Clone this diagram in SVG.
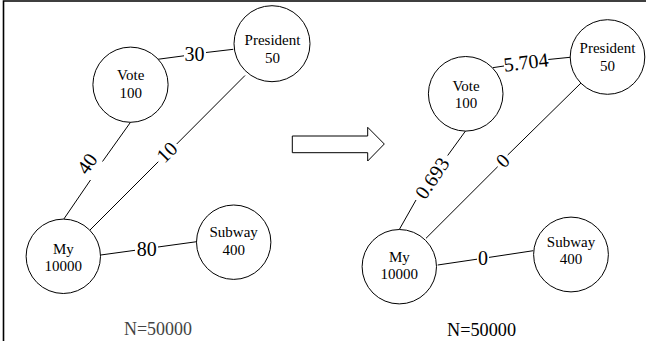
<svg xmlns="http://www.w3.org/2000/svg" width="646" height="341" viewBox="0 0 646 341">
  <style>
    .node circle { fill: #fff; stroke: #000; stroke-width: 1; }
    .node text { font-family: "Liberation Serif", "Times New Roman", serif; font-size: 15px; text-anchor: middle; fill: #000; }
    .edge { fill: none; stroke: #000; stroke-width: 1; }
    .lbl { font-family: "Liberation Serif", "Times New Roman", serif; font-size: 20px; text-anchor: middle; fill: #000; }
    .cap { font-family: "Liberation Serif", "Times New Roman", serif; font-size: 19px; text-anchor: middle; }
  </style>
  <rect x="0" y="0" width="646" height="341" fill="#fff"/>
  <path d="M3.5,342 V1 H646" fill="none" stroke="#000" stroke-width="1.6"/>

  <g id="connectors">
    <!-- left graph -->
    <path class="edge" d="M157.7,59.3 L184,55.8 M206,52.5 L233.3,49.3"/>
    <path class="edge" d="M130.7,122 L102.5,161.5 M90.5,180 L63.5,219.5"/>
    <path class="edge" d="M90,230 L158.3,161.7 M176.7,144 L245,75.5"/>
    <path class="edge" d="M100.7,255 L135,250.3 M158,247 L196.7,241.7"/>
    <text class="lbl" x="194.5" y="61">30</text>
    <text class="lbl" transform="translate(87,163.5) rotate(-55.5)" x="0" y="7">40</text>
    <text class="lbl" transform="translate(166.7,152) rotate(-45)" x="0" y="7">10</text>
    <text class="lbl" x="146.7" y="255.5">80</text>
    <!-- right graph -->
    <path class="edge" d="M492.7,67.7 L504,66 M548.3,59.5 L570,57.3"/>
    <path class="edge" d="M465.5,131 L447.7,155.5 M416,200 L399.3,229.5"/>
    <path class="edge" d="M426,238.3 L497.7,166.7 M507.7,155 L581,83"/>
    <path class="edge" d="M437.7,265 L477,259.2 M489,257.4 L533.3,250.7"/>
    <text class="lbl" transform="translate(526,62) rotate(-7)" x="0" y="7">5.704</text>
    <text class="lbl" transform="translate(432,178) rotate(-56.2)" x="0" y="7">0.693</text>
    <text class="lbl" transform="translate(502.7,160.5) rotate(-45)" x="0" y="7">0</text>
    <text class="lbl" x="483" y="264.5">0</text>
  </g>

  <polygon id="arrow" points="292.3,136 367.7,136 367.7,127.3 384.3,144 367.7,161 367.7,152.7 292.3,152.7" fill="#fff" stroke="#000" stroke-width="1"/>

  <g id="left-vote" class="node">
    <circle cx="130.5" cy="84.7" r="37.6"/>
    <text x="130.7" y="80">Vote</text>
    <text x="130.7" y="98">100</text>
  </g>
  <g id="left-president" class="node">
    <circle cx="272" cy="43.7" r="38"/>
    <text x="272.5" y="44.8">President</text>
    <text x="272.5" y="62.5">50</text>
  </g>
  <g id="left-my" class="node">
    <circle cx="63.3" cy="256.3" r="37.2"/>
    <text x="63.3" y="253.5">My</text>
    <text x="63.3" y="271">10000</text>
  </g>
  <g id="left-subway" class="node">
    <circle cx="233.7" cy="242.2" r="37.2"/>
    <text x="233.7" y="236.8">Subway</text>
    <text x="233.7" y="255">400</text>
  </g>

  <g id="right-vote" class="node">
    <circle cx="465.7" cy="93.8" r="37.3"/>
    <text x="466" y="90.5">Vote</text>
    <text x="466" y="108.3">100</text>
  </g>
  <g id="right-president" class="node">
    <circle cx="607.5" cy="57" r="37.3"/>
    <text x="607.5" y="53.3">President</text>
    <text x="607.5" y="70.7">50</text>
  </g>
  <g id="right-my" class="node">
    <circle cx="399.3" cy="266.7" r="37.2"/>
    <text x="399.3" y="261.7">My</text>
    <text x="399.3" y="279.3">10000</text>
  </g>
  <g id="right-subway" class="node">
    <circle cx="571" cy="254.5" r="37.4"/>
    <text x="571" y="246.7">Subway</text>
    <text x="571" y="264.3">400</text>
  </g>

  <text class="cap" x="158" y="335" fill="#444" textLength="68" lengthAdjust="spacingAndGlyphs">N=50000</text>
  <text class="cap" x="481.5" y="336" fill="#000" textLength="69" lengthAdjust="spacingAndGlyphs">N=50000</text>
</svg>
